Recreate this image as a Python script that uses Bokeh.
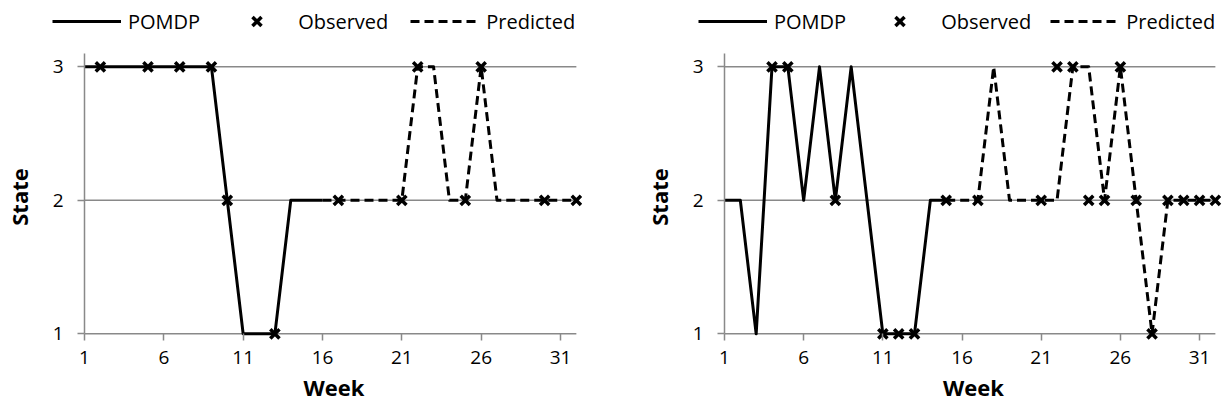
from bokeh.plotting import figure
from bokeh.models import Range1d, FixedTicker, Legend, LegendItem
from bokeh.layouts import row, column
from bokeh.embed import file_html
from bokeh.resources import INLINE

# ---- data: left panel ----
left_pomdp_weeks = list(range(1, 17))
left_pomdp_state = [3, 3, 3, 3, 3, 3, 3, 3, 3, 2, 1, 1, 1, 2, 2, 2]
left_obs_weeks = [2, 5, 7, 9, 10, 13, 17, 21, 22, 25, 26, 30, 32]
left_obs_state = [3, 3, 3, 3, 2, 1, 2, 2, 3, 2, 3, 2, 2]
left_pred_weeks = list(range(16, 33))
left_pred_state = [2, 2, 2, 2, 2, 2, 3, 3, 2, 2, 3, 2, 2, 2, 2, 2, 2]

# ---- data: right panel ----
right_pomdp_weeks = list(range(1, 16))
right_pomdp_state = [2, 2, 1, 3, 3, 2, 3, 2, 3, 2, 1, 1, 1, 2, 2]
right_obs_weeks = [4, 5, 8, 11, 12, 13, 15, 17, 21, 22, 23, 24, 25, 26, 27, 28, 29, 30, 31, 32]
right_obs_state = [3, 3, 2, 1, 1, 1, 2, 2, 2, 3, 3, 2, 2, 3, 2, 1, 2, 2, 2, 2]
right_pred_weeks = list(range(15, 33))
right_pred_state = [2, 2, 2, 3, 2, 2, 2, 2, 3, 3, 2, 3, 2, 1, 2, 2, 2, 2]

series_names = ["POMDP", "Observed", "Predicted"]
x_ticks = [1, 6, 11, 16, 21, 26, 31]
y_ticks = [1, 2, 3]
week_first, week_last = 1, 32

FONT = "Open Sans"
GREY = "#898989"
LINE_W = 3
DASH = "9 5"
MARK_SIZE = 13
MARK_W = 3.5


def draw_series(fig, pw, ps, ow, os_, qw, qs):
    a = fig.line(pw, ps, line_color="black", line_width=LINE_W, line_join="round")
    c = fig.line(qw, qs, line_color="black", line_width=LINE_W, line_dash=DASH,
                 line_join="round")
    b = fig.scatter(ow, os_, marker="x", size=MARK_SIZE, line_color="black",
                    line_width=MARK_W)
    return a, b, c


def make_legend_fig(series, leg_x, spacing):
    # strip above the chart that only carries the legend (its ranges keep the
    # series themselves out of view)
    lf = figure(width=611, height=53, output_backend="svg", toolbar_location=None,
                x_range=Range1d(0, 1), y_range=Range1d(10, 11),
                x_axis_location=None, y_axis_location=None, min_border=0)
    lf.frame_align = False
    lf.outline_line_color = None
    lf.xgrid.grid_line_color = None
    lf.ygrid.grid_line_color = None
    a, b, c = draw_series(lf, *series)
    legend = Legend(items=[LegendItem(label=series_names[0], renderers=[a]),
                           LegendItem(label=series_names[1], renderers=[b]),
                           LegendItem(label=series_names[2], renderers=[c])],
                    orientation="horizontal", location=(leg_x, 16),
                    glyph_width=69, glyph_height=32, label_standoff=7, spacing=spacing,
                    padding=0, margin=0, border_line_color=None,
                    background_fill_alpha=0,
                    label_text_font=FONT, label_text_font_size="20px",
                    label_text_color="black")
    lf.add_layout(legend, "center")
    return lf


def make_panel(series, b_left, b_right):
    p = figure(width=611, height=358,
               x_range=Range1d(week_first, week_last + 0.45),
               y_range=Range1d(0.95, 3.1),
               output_backend="svg", toolbar_location=None,
               min_border_left=b_left, min_border_right=b_right,
               min_border_top=0, min_border_bottom=71)
    p.frame_align = False
    p.outline_line_color = None
    p.background_fill_color = "white"
    p.border_fill_color = "white"

    # horizontal grid lines (the one at 1 doubles as the category axis line)
    p.multi_line(xs=[[week_first, week_last] for _ in y_ticks],
                 ys=[[t, t] for t in y_ticks],
                 line_color=GREY, line_width=1.5)

    xa = p.xaxis[0]
    xa.ticker = FixedTicker(ticks=x_ticks)
    xa.axis_line_color = None
    xa.minor_tick_line_color = None
    xa.major_tick_in = 7
    xa.major_tick_out = 0
    xa.major_tick_line_color = GREY
    xa.major_tick_line_width = 1.5
    xa.major_label_text_font = FONT
    xa.major_label_text_font_size = "19px"
    xa.major_label_text_color = "black"
    xa.major_label_standoff = 10
    xa.axis_label = "Week"
    xa.axis_label_text_font = FONT
    xa.axis_label_text_font_style = "bold"
    xa.axis_label_text_font_size = "22px"
    xa.axis_label_text_color = "black"
    xa.axis_label_standoff = 5

    ya = p.yaxis[0]
    ya.bounds = (1, 3.1)
    ya.ticker = FixedTicker(ticks=y_ticks)
    ya.minor_tick_line_color = None
    ya.major_tick_in = 0
    ya.major_tick_out = 7
    ya.axis_line_color = GREY
    ya.axis_line_width = 1.5
    ya.major_tick_line_color = GREY
    ya.major_tick_line_width = 1.5
    ya.major_label_text_font = FONT
    ya.major_label_text_font_size = "19px"
    ya.major_label_text_color = "black"
    ya.major_label_standoff = 14
    ya.axis_label = "State"
    ya.axis_label_text_font = FONT
    ya.axis_label_text_font_style = "bold"
    ya.axis_label_text_font_size = "22px"
    ya.axis_label_text_color = "black"
    ya.axis_label_standoff = 16

    p.xgrid.grid_line_color = None
    p.ygrid.grid_line_color = None

    draw_series(p, *series)
    return p


left_series = (left_pomdp_weeks, left_pomdp_state, left_obs_weeks, left_obs_state,
               left_pred_weeks, left_pred_state)
right_series = (right_pomdp_weeks, right_pomdp_state, right_obs_weeks, right_obs_state,
                right_pred_weeks, right_pred_state)

l1 = make_legend_fig(left_series, 52, 22)
p1 = make_panel(left_series, 83, 28)
l2 = make_legend_fig(right_series, 87, 19)
p2 = make_panel(right_series, 113, 0)

layout = row(column(l1, p1, spacing=0), column(l2, p2, spacing=0), spacing=0)
open("out.html", "w").write(file_html(layout, INLINE))
